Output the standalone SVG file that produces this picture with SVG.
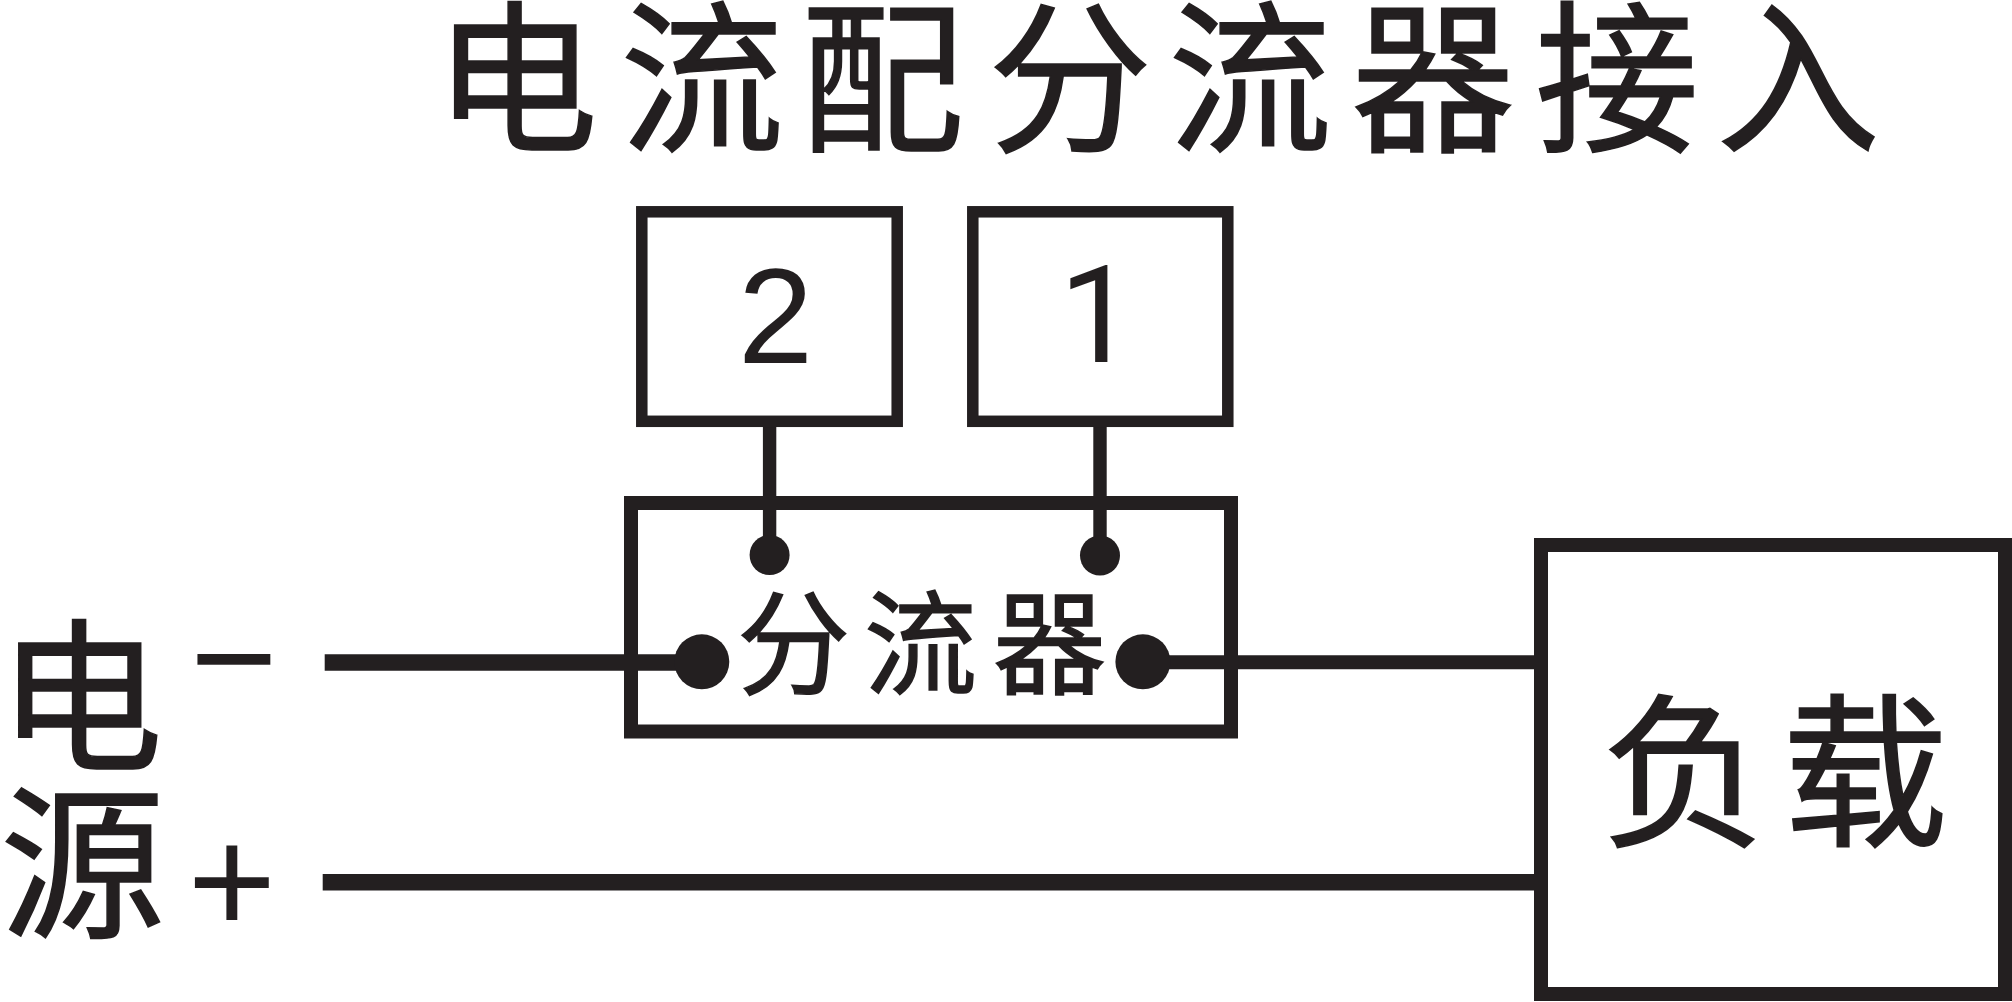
<svg xmlns="http://www.w3.org/2000/svg" width="2012" height="1002" viewBox="0 0 2012 1002">
<style>
.box{fill:none;stroke:#231f20;stroke-width:11.5}
.thick{fill:none;stroke:#231f20;stroke-width:14}
.wire{stroke:#231f20;fill:none}
.dot{fill:#231f20}
.cjk{font-family:"Noto Sans CJK SC","Liberation Sans",sans-serif;fill:#231f20;stroke:#231f20;stroke-width:1.5}
.lat{font-family:"Liberation Sans",Arial,sans-serif;fill:#231f20}
.num{font-family:Roboto,"Liberation Sans",sans-serif;fill:#231f20}
</style>
<rect width="2012" height="1002" fill="#fff"/>
<g id="connectors">
<line class="wire" stroke-width="13.4" x1="769.6" y1="424" x2="769.6" y2="540"/>
<line class="wire" stroke-width="13.4" x1="1100" y1="424" x2="1100" y2="540"/>
<line class="wire" stroke-width="16.5" x1="324.7" y1="662.4" x2="690" y2="662.4"/>
<line class="wire" stroke-width="14" x1="1160" y1="662.3" x2="1536" y2="662.3"/>
<line class="wire" stroke-width="16.5" x1="322.7" y1="882.3" x2="1536" y2="882.3"/>
</g>
<g id="title">
<text class="cjk" font-size="164" y="139" x="434 620 800 988 1168 1351 1535 1716">电流配分流器接入</text>
</g>
<g id="node-2">
<rect class="box" x="641.8" y="211.8" width="255.4" height="209.5"/>
<text class="lat" font-size="135" x="775.5" y="363" text-anchor="middle">2</text>
</g>
<g id="node-1">
<rect class="box" x="972.8" y="211.8" width="255" height="209.5"/>
<text class="num" font-size="136" x="1059" y="362">1</text>
</g>
<g id="shunt">
<rect class="thick" x="631" y="503" width="600" height="228.5"/>
<circle class="dot" cx="769.6" cy="555" r="20"/>
<circle class="dot" cx="1100" cy="555.5" r="20"/>
<circle class="dot" cx="701.8" cy="661.8" r="27.5"/>
<circle class="dot" cx="1142.9" cy="661.8" r="27.5"/>
<text class="cjk" font-size="113" y="685" x="737 864 993">分流器</text>
</g>
<g id="source">
<text class="cjk" font-size="165" x="-2" y="758">电</text>
<text class="cjk" font-size="165" x="0" y="925">源</text>
<text class="lat" font-size="150" x="234" y="709" text-anchor="middle">−</text>
<text class="lat" font-size="152" x="232" y="933" text-anchor="middle">+</text>
</g>
<g id="load">
<rect class="thick" x="1541" y="545" width="464" height="449"/>
<text class="cjk" font-size="166" y="834" x="1601 1782">负载</text>
</g>
</svg>
